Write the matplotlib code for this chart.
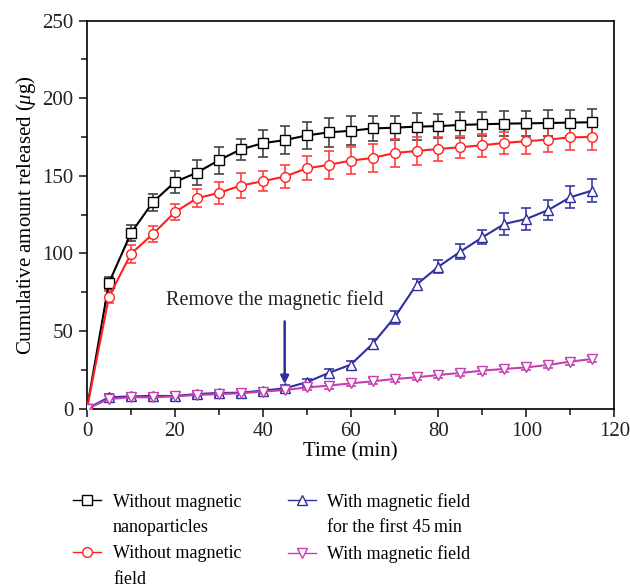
import numpy as np
import matplotlib.pyplot as plt
from matplotlib.lines import Line2D

plt.rcParams['font.family'] = ['Liberation Serif', 'DejaVu Serif']
plt.rcParams['mathtext.fontset'] = 'custom'
plt.rcParams['mathtext.rm'] = 'Liberation Serif'
plt.rcParams['mathtext.it'] = 'Liberation Serif:italic'

# Time points (min)
time = np.arange(0, 120, 5)

# Without magnetic nanoparticles
no_np = [0, 81, 113, 133, 146, 152, 160, 167, 171, 173, 176, 178, 179,
         180.5, 181, 181.7, 182, 182.8, 183.2, 183.6, 183.8, 184, 184.3, 184.5]
no_np_err = [0, 4, 5.2, 5.6, 6.9, 8.2, 8.8, 7, 8.6, 9.2, 8.8, 9.2, 9.3,
             8.3, 7.7, 8.7, 7.6, 8.3, 7.6, 8.2, 8, 8.4, 8.4, 8.6]

# Without magnetic field
no_field = [0, 72, 99.7, 112.5, 126.5, 135.5, 139, 143.7, 146.5, 149.5, 154.8, 157, 159.8,
            161.5, 164.7, 166, 167.3, 168.4, 169.7, 171.2, 172.3, 173.3, 174.8, 175]
no_field_err = [0, 4, 6, 5.2, 5.2, 5.9, 7, 8, 6.6, 7.4, 7.8, 9.1, 8.6,
                9.2, 9.1, 9, 7.5, 7.2, 7.3, 7.3, 8, 8.2, 8.4, 8.6]

# With magnetic field for the first 45 min
first45 = [0, 7.3, 7.9, 8.2, 8.2, 9.4, 10.1, 10.3, 11.6, 13.1, 17, 23, 28.3,
           41.7, 58.8, 79.9, 91.5, 101.2, 110.4, 119, 122.2, 128, 136.2, 140.5]
first45_err = [0, 2, 2, 2, 2, 2, 2, 2, 2, 2, 2, 2.5, 2.5,
               3, 4, 3.5, 4, 5, 4.6, 6.9, 6.8, 6.4, 7.1, 7.2]

# With magnetic field
with_field = [0, 6.2, 7.3, 7.3, 7.9, 8.8, 9.4, 9.9, 11, 12, 13.7, 14.8, 16.3,
              17.6, 19.1, 20.2, 21.7, 23, 24.5, 25.6, 26.6, 28.2, 30.3, 32]
with_field_err = [0, 2, 2, 2, 2, 2, 2, 2, 2, 2, 2, 2, 2,
                  2, 2, 2, 2, 2, 2, 2, 2, 2, 2, 2]

# legend labels, split in lines (first line carries the symbol)
labels = [
    ['Without magnetic', 'nanoparticles'],
    ['Without magnetic', 'field'],
    ['With magnetic field', 'for the first 45\u2009min'],
    ['With magnetic field', ''],
]

series = [
    (no_np, no_np_err, '#000000', '#444444', 's'),
    (no_field, no_field_err, '#ff2020', '#ff4040', 'o'),
    (first45, first45_err, '#2e2e9e', '#3a3aaa', '^'),
    (with_field, with_field_err, '#c43fb0', '#c43fb0', 'v'),
]

fig = plt.figure(figsize=(6.3, 5.88), dpi=100)
ax = fig.add_axes([0.138, 0.305, 0.837, 0.66])

handles = []
for (y, err, col, ecol, mk), lab in zip(series, labels):
    ax.errorbar(time, y, yerr=err, fmt='none', ecolor=ecol, elinewidth=1.2,
                capsize=3.5, capthick=1.2, zorder=2)
    ax.plot(time, y, color=col, lw=1.5, marker=mk, ms=7, mfc='white',
            mec=col, mew=1.0, zorder=3)
    handles.append(Line2D([], [], color=col, lw=1.0, marker=mk, ms=7,
                          mfc='white', mec=col, mew=1.0, label=lab[0]))
    handles.append(Line2D([], [], color='none', label=lab[1]))

ax.annotate('', xy=(45, 14), xytext=(45, 58),
            arrowprops=dict(arrowstyle='-|>', color='#2e2e9e', lw=1.8,
                            mutation_scale=12))
ax.text(42.8, 70, 'Remove the magnetic field', ha='center', va='center',
        fontsize=14.5, color='#222222')

ax.set_xlim(0, 120)
ax.set_ylim(0, 250)
ax.set_xticks(np.arange(0, 121, 20))
ax.set_xticks(np.arange(10, 120, 20), minor=True)
ax.set_yticks(np.arange(0, 251, 50))
ax.set_yticks(np.arange(25, 250, 50), minor=True)
ax.tick_params(which='both', direction='out', labelsize=15, width=1.2, colors='#222222')
ax.tick_params(which='major', length=6)
ax.tick_params(which='minor', length=4)
for s in ax.spines.values():
    s.set_linewidth(1.2)

ax.set_xlabel('Time (min)', fontsize=15, labelpad=1)
ax.set_ylabel(r'Cumulative amount released ($\mu$g)', fontsize=15, labelpad=3)

fig.legend(handles=handles, loc='upper left', bbox_to_anchor=(0.116, 0.162),
           ncol=2, frameon=False, fontsize=13, handlelength=1.55,
           columnspacing=2.55, labelspacing=0.49, handletextpad=0.66,
           borderpad=0, borderaxespad=0)

fig.savefig('out.png', dpi=100)
